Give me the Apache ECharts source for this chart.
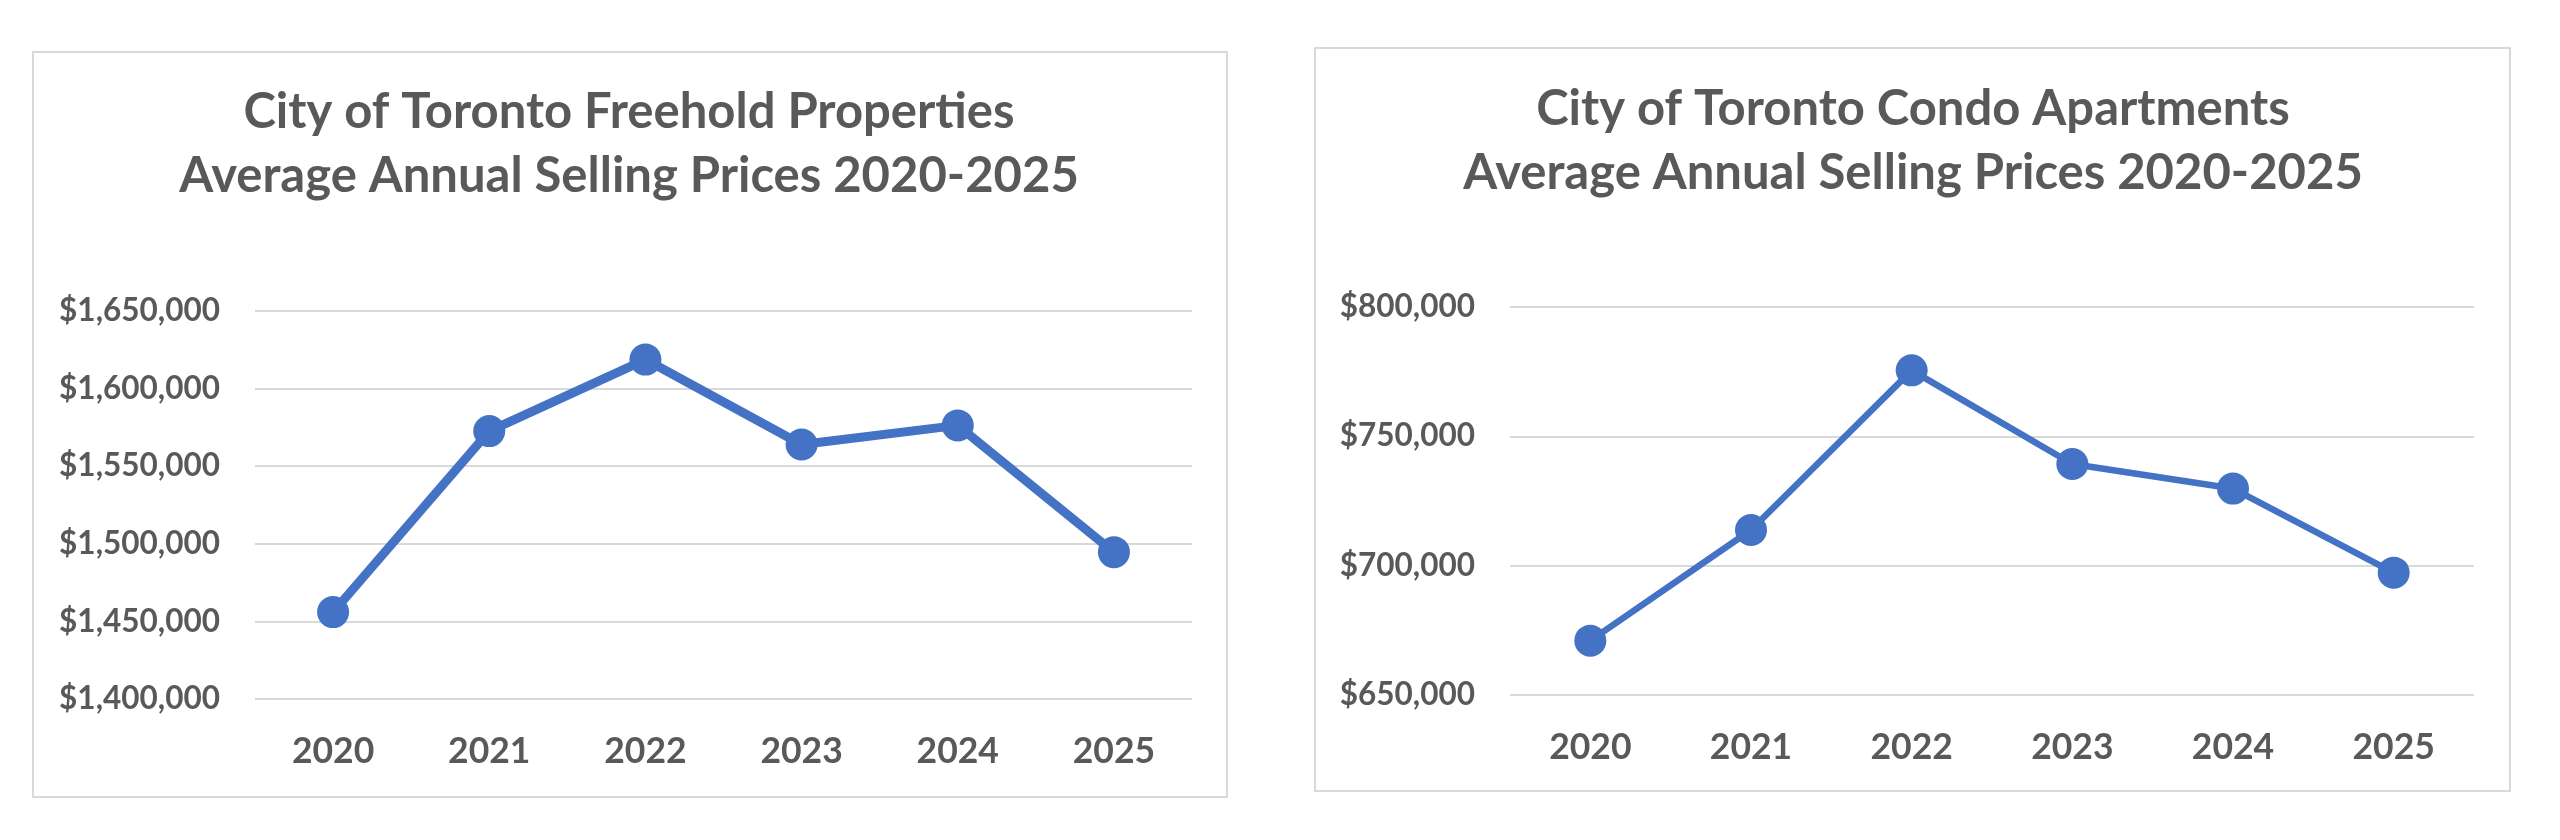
<!DOCTYPE html>
<html>
<head>
<meta charset="utf-8">
<script src="https://cdn.jsdelivr.net/npm/echarts@6/dist/echarts.min.js"></script>
<style>
html,body{margin:0;padding:0;background:#fff;}
#c{width:2560px;height:840px;}
</style>
</head>
<body>
<div id="c"></div>
<script>
const years = ['2020', '2021', '2022', '2023', '2024', '2025'];
const freeholdPrices = [1456000, 1572600, 1618700, 1564000, 1576300, 1494600];
const condoPrices = [671000, 713800, 775500, 739300, 729800, 697300];
const freeholdTitle = 'City of Toronto Freehold Properties\nAverage Annual Selling Prices 2020-2025';
const condoTitle = 'City of Toronto Condo Apartments\nAverage Annual Selling Prices 2020-2025';

const FONT = 'Lato';
const TXT = '#595959';
const BLUE = '#4472C4';
const GRID = '#D9D9D9';

function money(v) {
  return '$' + v.toLocaleString('en-US');
}

const chart = echarts.init(document.getElementById('c'));
const titleStyle = {fontFamily: FONT, fontWeight: 'bold', fontSize: 49, lineHeight: 64, color: TXT};

function xAxis(gi) {
  return {
    type: 'category', gridIndex: gi, data: years, boundaryGap: true,
    axisLine: {show: false}, axisTick: {show: false},
    axisLabel: {fontFamily: FONT, fontWeight: 'bold', fontSize: 35.5, color: TXT, margin: 35}
  };
}
function yAxis(gi, min, max) {
  return {
    type: 'value', gridIndex: gi, min: min, max: max, interval: 50000,
    axisLine: {show: false}, axisTick: {show: false},
    splitLine: {lineStyle: {color: GRID, width: 2}},
    axisLabel: {fontFamily: FONT, fontWeight: 'bold', fontSize: 31.5, color: TXT, margin: 35, formatter: money}
  };
}

chart.setOption({
  animation: false,
  backgroundColor: '#fff',
  graphic: [
    {type: 'rect', shape: {x: 33, y: 52, width: 1194, height: 745}, style: {fill: 'none', stroke: GRID, lineWidth: 2}, z: -1},
    {type: 'rect', shape: {x: 1315, y: 48, width: 1195, height: 743}, style: {fill: 'none', stroke: GRID, lineWidth: 2}, z: -1}
  ],
  title: [
    {text: freeholdTitle, left: 629, top: 80, textAlign: 'center', padding: 0, textStyle: titleStyle},
    {text: condoTitle, left: 1913, top: 77, textAlign: 'center', padding: 0, textStyle: titleStyle}
  ],
  grid: [
    {left: 255, width: 937, top: 311, height: 388},
    {left: 1510, width: 964, top: 307, height: 388}
  ],
  xAxis: [xAxis(0), xAxis(1)],
  yAxis: [yAxis(0, 1400000, 1650000), yAxis(1, 650000, 800000)],
  series: [
    {type: 'line', xAxisIndex: 0, yAxisIndex: 0, data: freeholdPrices,
     symbol: 'circle', symbolSize: 32, itemStyle: {color: BLUE},
     lineStyle: {color: BLUE, width: 9}},
    {type: 'line', xAxisIndex: 1, yAxisIndex: 1, data: condoPrices,
     symbol: 'circle', symbolSize: 32, itemStyle: {color: BLUE},
     lineStyle: {color: BLUE, width: 6.5}}
  ]
});
</script>
</body>
</html>
